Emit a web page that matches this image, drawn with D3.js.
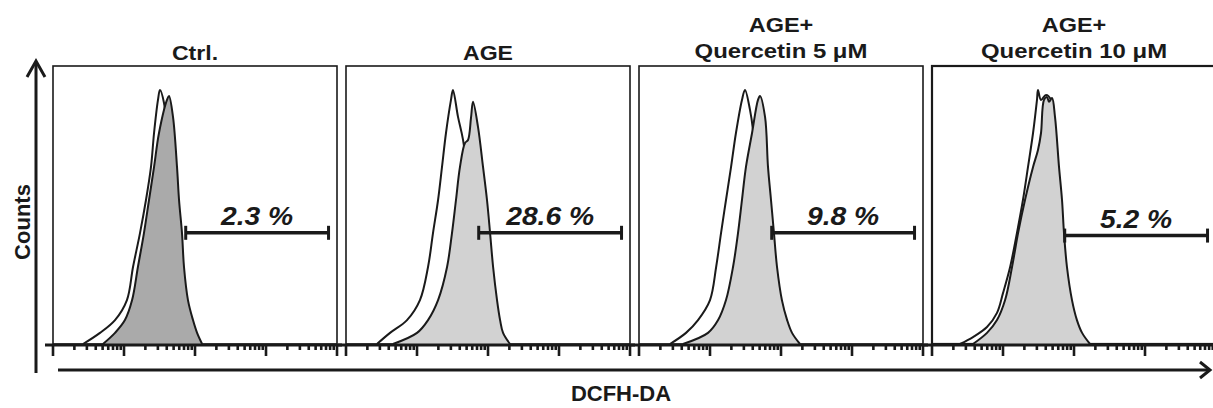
<!DOCTYPE html>
<html>
<head>
<meta charset="utf-8">
<script src="https://cdn.jsdelivr.net/npm/d3@7"></script>
<style>
  body { margin: 0; background: #fff; }
  svg { display: block; }
</style>
</head>
<body>
<script>
// panel titles (one or two lines) and gated percentages
const panelTitles = [["Ctrl."], ["AGE"], ["AGE+", "Quercetin 5 μM"], ["AGE+", "Quercetin 10 μM"]];
const gatePercents = ["2.3 %", "28.6 %", "9.8 %", "5.2 %"];

// marker gate, fluorescence intensity (log axis), and its height in % of max counts
const gateRange = [74, 7600];
const gateLevel = [40, 40, 40, 39];

// histograms: [DCFH-DA intensity, counts as % of panel max]
// open outline overlay
const ctrlOverlay = [[2.65,0],[4.59,4.0],[7.47,8.6],[11.0,15.8],[13.4,27.7],[16.8,39.9],[20.4,51.8],[24.0,63.7],[26.5,75.9],[30.1,87.8],[32.1,91.4],[36.6,86.7],[41.7,69.8],[47.4,39.9],[55.8,15.8],[67.8,4.0],[90.8,0]];
const ageOverlay  = [[2.73,0],[4.17,4.0],[7.23,8.6],[11.0,15.8],[14.3,27.7],[16.8,39.9],[19.8,51.8],[22.5,63.7],[25.6,75.9],[30.1,87.8],[32.1,91.4],[37.8,81.7],[44.5,73.4],[55.8,51.8],[67.8,27.7],[82.3,8.6],[107,0]];
const q5Overlay   = [[2.73,0],[4.59,4.0],[6.78,8.6],[10.0,15.8],[12.2,27.7],[14.3,39.9],[16.8,51.8],[19.8,63.7],[23.2,75.9],[28.2,87.8],[31.1,91.4],[36.6,84.2],[40.3,77.0],[47.4,51.8],[57.6,27.7],[70.0,8.6],[90.8,0]];
const q10Overlay  = [[2.48,0],[3.78,2.5],[5.95,6.1],[8.23,11.2],[10.0,18.3],[12.6,27.7],[15.7,39.9],[19.1,51.8],[22.5,63.7],[26.5,75.9],[30.1,87.8],[31.1,91.4],[34.3,87.8],[40.3,89.6],[47.4,87.8],[52.3,69.8],[59.6,39.9],[72.3,15.8],[93.7,4.0],[130,0]];
// filled sample histogram
const ctrlSample = [[5.06,0],[7.47,4.0],[10.3,8.6],[13.0,15.8],[15.7,27.7],[19.1,39.9],[22.5,51.8],[26.5,63.7],[31.1,75.9],[40.3,87.8],[43.0,89.2],[49.0,81.7],[55.8,63.7],[59.6,51.8],[65.6,39.9],[70.0,27.7],[79.6,15.8],[93.7,8.6],[107,4.0],[126,0]];
const ageSample  = [[4.59,0],[10.0,4.0],[14.3,8.6],[19.8,15.8],[26.5,27.7],[31.1,39.9],[35.4,51.8],[40.3,63.7],[47.4,72.3],[52.3,73.4],[57.6,81.3],[61.5,87.1],[72.3,78.1],[85.1,63.7],[96.8,51.8],[107,39.9],[118,27.7],[134,15.8],[148,8.6],[163,4.0],[204,0]];
const q5Sample   = [[4.17,0],[9.37,4.0],[13.0,8.6],[16.8,15.8],[21.1,27.7],[24.8,39.9],[28.2,51.8],[32.1,63.7],[39.1,75.9],[47.4,87.8],[50.6,89.2],[59.6,81.7],[65.6,63.7],[72.3,51.8],[79.6,39.9],[87.9,27.7],[103,15.8],[122,8.6],[143,4.0],[185,0]];
const q10Sample  = [[3.78,0],[5.95,4.0],[8.23,8.6],[10.7,15.8],[13.4,27.7],[16.3,39.9],[20.4,51.8],[26.5,63.7],[31.1,69.8],[34.3,75.9],[37.8,87.8],[41.7,88.8],[44.5,87.1],[49.0,88.5],[54.0,81.7],[61.5,63.7],[67.8,51.8],[72.3,39.9],[79.6,27.7],[93.7,15.8],[110,8.6],[130,4.0],[168,0]];

const overlays = [ctrlOverlay, ageOverlay, q5Overlay, q10Overlay];
const samples = [ctrlSample, ageSample, q5Sample, q10Sample];

const width = 1213, height = 408;
const panelW = 284, panelStep = 293, firstLeft = 53;
const plotTop = 66, plotBase = 344;
const ink = "#1a1a1a";
const font = "'Liberation Sans', Arial, sans-serif";

const svg = d3.select("body").append("svg")
  .attr("width", width).attr("height", height);

const y = d3.scaleLinear().domain([0, 100]).range([plotBase, plotTop]);

function addText(g, str, x, yy, size, opts = {}) {
  return g.append("text")
    .attr("transform", `translate(${x},${yy}) scale(${opts.sx || 1},1)${opts.rot ? ` rotate(${opts.rot})` : ""}`)
    .attr("text-anchor", "middle")
    .attr("font-family", font)
    .attr("font-weight", "bold")
    .attr("font-style", opts.italic ? "italic" : "normal")
    .attr("font-size", size)
    .attr("fill", ink)
    .text(str);
}

panelTitles.forEach((title, i) => {
  const left = firstLeft + i * panelStep;
  const x = d3.scaleLog().domain([1, 1e4]).range([left, left + panelW]);
  const g = svg.append("g");

  // frame
  g.append("rect")
    .attr("x", left).attr("y", plotTop)
    .attr("width", panelW).attr("height", plotBase - plotTop)
    .attr("fill", "none").attr("stroke", ink)
    .attr("stroke-width", i === 3 ? 2.2 : 1.6);

  const line = d3.line()
    .x(d => x(d[0])).y(d => y(d[1]))
    .curve(d3.curveCatmullRom.alpha(0.5));
  const area = d3.area()
    .x(d => x(d[0])).y0(y(0)).y1(d => y(d[1]))
    .curve(d3.curveCatmullRom.alpha(0.5));

  // open overlay histogram
  g.append("path")
    .attr("d", line(overlays[i]))
    .attr("fill", "none").attr("stroke", ink).attr("stroke-width", 2);

  // filled sample histogram
  g.append("path")
    .attr("d", area(samples[i]))
    .attr("fill", i === 0 ? "#aaaaaa" : "#d2d2d2")
    .attr("stroke", "none");
  g.append("path")
    .attr("d", line(samples[i]))
    .attr("fill", "none").attr("stroke", ink).attr("stroke-width", 2);

  // log axis along the bottom
  g.append("line")
    .attr("x1", left - 8).attr("x2", left + panelW + 5)
    .attr("y1", plotBase + 1).attr("y2", plotBase + 1)
    .attr("stroke", ink).attr("stroke-width", 3);
  const ticks = x.ticks();
  g.selectAll(".tick").data(ticks).enter().append("line")
    .attr("x1", d => x(d)).attr("x2", d => x(d))
    .attr("y1", plotBase + 1)
    .attr("y2", d => Math.abs(Math.log10(d) - Math.round(Math.log10(d))) < 1e-6 ? plotBase + 12 : plotBase + 6)
    .attr("stroke", ink).attr("stroke-width", 2.6);

  // gate marker
  const gy = y(gateLevel[i]);
  const gx0 = x(gateRange[0]), gx1 = x(gateRange[1]);
  g.append("line").attr("x1", gx0).attr("x2", gx1).attr("y1", gy).attr("y2", gy)
    .attr("stroke", ink).attr("stroke-width", 3.5);
  [gx0, gx1].forEach(gx => g.append("line")
    .attr("x1", gx).attr("x2", gx).attr("y1", gy - 7).attr("y2", gy + 7)
    .attr("stroke", ink).attr("stroke-width", 3));
  addText(g, gatePercents[i], (gx0 + gx1) / 2, gy - 8, 25, { italic: true, sx: 1.13 });

  // title
  const cx = left + panelW / 2;
  if (title.length === 1) {
    addText(g, title[0], cx, 60, 21, { sx: 1.1 });
  } else {
    addText(g, title[0], cx, 32, 21, { sx: 1.12 });
    addText(g, title[1], cx, 58, 21, { sx: 1.14 });
  }
});

// y axis arrow
svg.append("line").attr("x1", 36).attr("x2", 36).attr("y1", 373).attr("y2", 62)
  .attr("stroke", ink).attr("stroke-width", 3);
svg.append("polyline").attr("points", "27,77 36,61 45,77")
  .attr("fill", "none").attr("stroke", ink).attr("stroke-width", 3);
addText(svg, "Counts", 30, 222, 22, { rot: -90 });

// x axis arrow
svg.append("line").attr("x1", 58).attr("x2", 1209).attr("y1", 370).attr("y2", 370)
  .attr("stroke", ink).attr("stroke-width", 3);
svg.append("polyline").attr("points", "1200,362 1210,370 1200,378")
  .attr("fill", "none").attr("stroke", ink).attr("stroke-width", 3);
addText(svg, "DCFH-DA", 621, 401, 22);
</script>
</body>
</html>
